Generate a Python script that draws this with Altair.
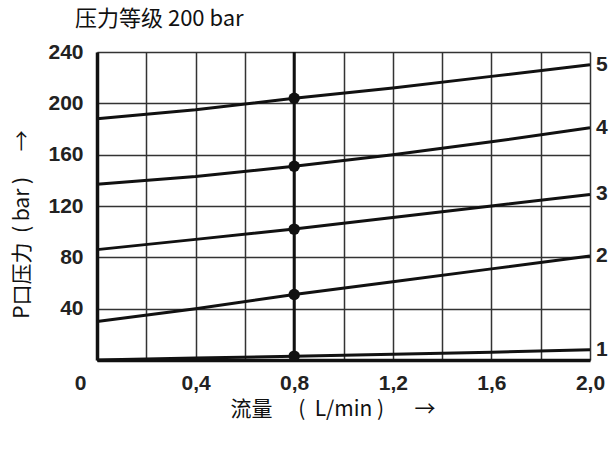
import altair as alt
import pandas as pd

# Flow (L/min) sample points and the pressure of each setting curve (bar)
flow = [0, 0.4, 0.8, 1.2, 1.6, 2.0]
p1 = [0, 1.5, 3, 4.5, 6, 8]
p2 = [30, 40, 51, 61, 71, 81]
p3 = [86, 94, 102, 111, 120, 129]
p4 = [137, 143, 151, 160, 170, 181]
p5 = [188, 195, 204, 212, 221, 230]
curve_names = ["1", "2", "3", "4", "5"]
marker_flow = 0.8

x_grid = [0, 0.2, 0.4, 0.6, 0.8, 1.0, 1.2, 1.4, 1.6, 1.8, 2.0]
y_grid = [0, 20, 40, 60, 80, 100, 120, 140, 160, 180, 200, 220, 240]

series = [p1, p2, p3, p4, p5]
rows = []
for name, vals in zip(curve_names, series):
    for f, p in zip(flow, vals):
        rows.append({"flow": f, "p": p, "curve": name})
lines_df = pd.DataFrame(rows)

dots_df = pd.DataFrame(
    {"flow": [marker_flow] * 5,
     "p": [vals[flow.index(marker_flow)] for vals in series]}
)
ends_df = pd.DataFrame(
    {"flow": [flow[-1]] * 5, "p": [vals[-1] for vals in series], "curve": curve_names}
)
rule_df = pd.DataFrame({"flow": [marker_flow]})

NUM_FONT = "Liberation Sans"
CJK_FONT = "Noto Sans CJK SC"
INK = "#111111"
GRID = "#333333"
LABEL = "#222222"
NBSP = "\u00a0"
IDSP = "\u3000"

x_enc = alt.X(
    "flow:Q",
    scale=alt.Scale(domain=[0, 2], nice=False, zero=False),
    axis=alt.Axis(
        values=x_grid,
        grid=True,
        gridColor=GRID,
        gridWidth=1.5,
        gridOpacity=1,
        ticks=False,
        domainColor=INK,
        domainWidth=3.5,
        labelExpr="datum.value == 0 ? '0' : (round(datum.value * 10) % 4 == 0 ? replace(format(datum.value, '.1f'), '.', ',') : '')",
        labelFont=NUM_FONT,
        labelFontWeight="bold",
        labelFontSize=21,
        labelColor=LABEL,
        labelPadding=12,
        labelOffset={"condition": {"test": "datum.value == 0", "value": -17}, "value": 0},
        labelFlush=False,
        labelOverlap=False,
        title=f"流量{IDSP}{NBSP}({NBSP}{NBSP}L/min{NBSP}){IDSP}{NBSP}{NBSP}→",
        titleFont=CJK_FONT,
        titleFontSize=21,
        titleFontWeight="normal",
        titleColor=INK,
        titleAnchor="start",
        titleX=133,
        titleY=38,
    ),
)

y_enc = alt.Y(
    "p:Q",
    scale=alt.Scale(domain=[0, 240], nice=False),
    axis=alt.Axis(
        values=y_grid,
        grid=True,
        gridColor=GRID,
        gridWidth=1.5,
        gridOpacity=1,
        ticks=False,
        domainColor=INK,
        domainWidth=3.5,
        labelExpr="(datum.value % 40 == 0 && datum.value > 0) ? datum.value : ''",
        labelFont=NUM_FONT,
        labelFontWeight="bold",
        labelFontSize=21,
        labelColor=LABEL,
        labelPadding=14,
        labelFlush=False,
        labelOverlap=False,
        title=f"P口压力{NBSP}{NBSP}({NBSP}bar{NBSP}){IDSP}{NBSP}→",
        titleFont=CJK_FONT,
        titleFontSize=21,
        titleFontWeight="normal",
        titleColor=INK,
        titleX=-75,
        titleY=172,
        titleAngle=-90,
        titleBaseline="middle",
    ),
)

curves = alt.Chart(lines_df).mark_line(color=INK, strokeWidth=3).encode(
    x=x_enc, y=y_enc, detail="curve:N"
)

rule = alt.Chart(rule_df).mark_rule(color=INK, strokeWidth=3).encode(x="flow:Q")

dots = alt.Chart(dots_df).mark_circle(color=INK, size=130, opacity=1).encode(
    x="flow:Q", y="p:Q"
)

end_labels = alt.Chart(ends_df).mark_text(
    align="left", baseline="middle", dx=6, font=NUM_FONT, fontWeight="bold",
    fontSize=21, color=LABEL
).encode(x="flow:Q", y="p:Q", text="curve:N")

chart = (
    alt.layer(rule, curves, dots, end_labels)
    .properties(
        width=493,
        height=308,
        autosize=alt.AutoSizeParams(type="none"),
        padding={"left": 97, "right": 21, "top": 52, "bottom": 90},
        title=alt.TitleParams(
            "压力等级 200 bar",
            anchor="start",
            frame="group",
            dx=-22,
            offset=10,
            font=CJK_FONT,
            fontSize=22,
            fontWeight="normal",
            color=INK,
        ),
    )
    .configure_view(stroke=None)
    .configure(background="white")
)

chart.save("out.html", embed_options={"renderer": "svg", "actions": False})
